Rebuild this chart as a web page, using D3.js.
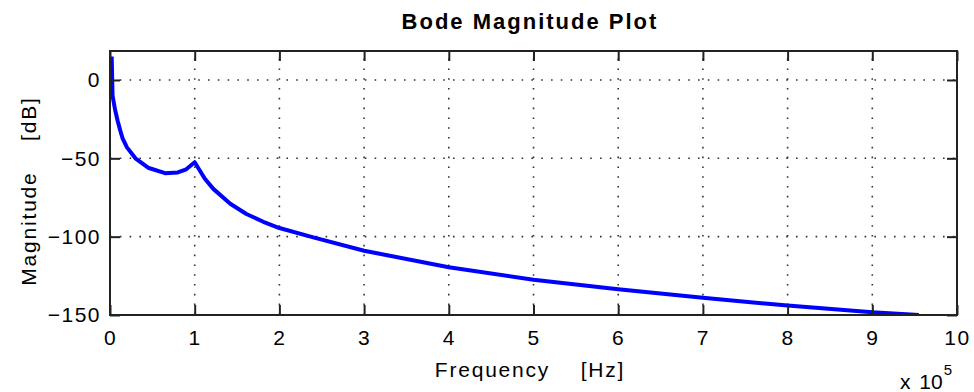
<!DOCTYPE html>
<html>
<head>
<meta charset="utf-8">
<script src="https://cdn.jsdelivr.net/npm/d3@7"></script>
<style>
  html, body { margin: 0; padding: 0; background: #fff; }
  svg { display: block; }
  text { font-family: "Liberation Sans", Arial, sans-serif; fill: #000; }
</style>
</head>
<body>
<svg id="chart" width="974" height="392"></svg>
<script>
// Frequency in units of 1e5 Hz, magnitude in dB
const freq = [0.02, 0.03, 0.06, 0.09, 0.12, 0.15, 0.2, 0.3, 0.45, 0.65, 0.8, 0.9, 1.0,
              1.12, 1.22, 1.42, 1.61, 1.81, 2.0, 2.4, 3.0, 4.0, 5.0, 6.0, 7.0, 8.0, 9.0, 9.55];
const magnitude = [15, -10, -19, -26, -32, -37.5, -43, -50, -56, -59.5, -59, -57, -52.5,
                   -63, -69.5, -79, -85.5, -90.5, -94.5, -100.5, -109, -119.5, -127.5, -133.5, -139, -144, -148.3, -150];
const xTicks = [0, 1, 2, 3, 4, 5, 6, 7, 8, 9, 10];
const yTicks = [-150, -100, -50, 0];

const svg = d3.select("#chart");
const plotL = 110, plotR = 957, plotT = 51, plotB = 315;
const x = d3.scaleLinear().domain([0, 10]).range([plotL, plotR]);
const y = d3.scaleLinear().domain([-150, 18.5]).range([plotB, plotT]);
const fs = 21, ls = 1.5;

// dotted grid
const grid = svg.append("g").attr("stroke", "#333").attr("stroke-width", 1.6)
  .attr("stroke-dasharray", "1.6,8.2");
grid.selectAll(".gx").data(xTicks.slice(1, -1)).join("line")
  .attr("x1", d => x(d)).attr("x2", d => x(d)).attr("y1", plotB).attr("y2", plotT);
grid.selectAll(".gy").data(yTicks.slice(1)).join("line")
  .attr("y1", d => y(d)).attr("y2", d => y(d)).attr("x1", plotL).attr("x2", plotR);

// curve
svg.append("clipPath").attr("id", "plotclip").append("rect")
  .attr("x", plotL).attr("y", plotT).attr("width", plotR - plotL).attr("height", plotB - plotT);
const pts = freq.map((f, i) => [f, magnitude[i]]);
svg.append("path").datum(pts)
  .attr("clip-path", "url(#plotclip)")
  .attr("fill", "none").attr("stroke", "#0000ff").attr("stroke-width", 4)
  .attr("stroke-linejoin", "round")
  .attr("d", d3.line().x(d => x(d[0])).y(d => y(d[1])));

// axes with inward ticks
const tickLen = -10;
const axB = d3.axisBottom(x).tickValues(xTicks).tickSizeInner(tickLen).tickSizeOuter(0).tickPadding(15);
const axT = d3.axisTop(x).tickValues(xTicks).tickSizeInner(tickLen).tickSizeOuter(0).tickFormat("");
const axL = d3.axisLeft(y).tickValues(yTicks).tickSizeInner(tickLen).tickSizeOuter(0).tickPadding(9);
const axR = d3.axisRight(y).tickValues(yTicks).tickSizeInner(tickLen).tickSizeOuter(0).tickFormat("");

function style(g) {
  g.selectAll("path").remove();
  g.selectAll("line").attr("stroke", "#222").attr("stroke-width", 2);
  g.selectAll("text").attr("font-size", fs).attr("letter-spacing", ls)
    .attr("font-family", "Liberation Sans, Arial, sans-serif");
}
svg.append("g").attr("transform", `translate(0,${plotB})`).call(axB).call(style);
svg.append("g").attr("transform", `translate(0,${plotT})`).call(axT).call(style);
svg.append("g").attr("transform", `translate(${plotL},0)`).call(axL).call(style);
svg.append("g").attr("transform", `translate(${plotR},0)`).call(axR).call(style);

// frame
svg.append("rect").attr("x", plotL).attr("y", plotT).attr("width", plotR - plotL).attr("height", plotB - plotT)
  .attr("fill", "none").attr("stroke", "#222").attr("stroke-width", 2);

// labels
svg.append("text").attr("x", 530).attr("y", 29).attr("text-anchor", "middle")
  .attr("font-size", 22).attr("font-weight", "bold").attr("letter-spacing", 2)
  .text("Bode Magnitude Plot");
svg.append("text").attr("x", 530).attr("y", 377).attr("text-anchor", "middle")
  .attr("font-size", fs).attr("letter-spacing", 1.8).attr("xml:space", "preserve")
  .text("Frequency    [Hz]");
svg.append("text").attr("transform", "translate(36,191) rotate(-90)").attr("text-anchor", "middle")
  .attr("font-size", fs).attr("letter-spacing", 1.8).attr("xml:space", "preserve")
  .text("Magnitude    [dB]");
const mult = svg.append("text").attr("x", 900).attr("y", 389).attr("font-size", fs).attr("xml:space", "preserve");
mult.append("tspan").text("x ");
mult.append("tspan").attr("dx", 3).text("10");
mult.append("tspan").attr("dx", 1).attr("dy", -14).attr("font-size", 15).text("5");
</script>
</body>
</html>
